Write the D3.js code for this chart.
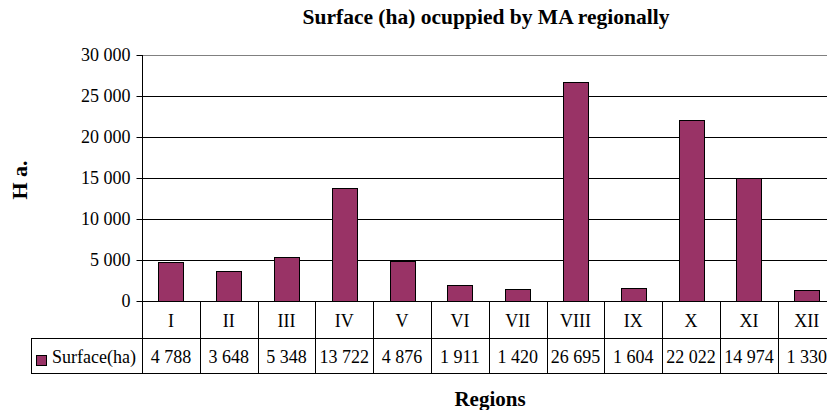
<!DOCTYPE html>
<html>
<head>
<meta charset="utf-8">
<script src="https://cdn.jsdelivr.net/npm/d3@7"></script>
<style>
	body { margin: 0; background: #fff; }
	svg { display: block; font-family: 'Liberation Serif', 'Times New Roman', serif; }
</style>
</head>
<body>
<svg id="chart" width="827" height="410"></svg>
<script>
//Chart data
const regions = ['I', 'II', 'III', 'IV', 'V', 'VI', 'VII', 'VIII', 'IX', 'X', 'XI', 'XII']
const surface = [4788, 3648, 5348, 13722, 4876, 1911, 1420, 26695, 1604, 22022, 14974, 1330]
const yTicks = [0, 5000, 10000, 15000, 20000, 25000, 30000]
const seriesName = 'Surface(ha)'
const title = 'Surface (ha) ocuppied by MA regionally'
const yTitle = 'H a.'
const xTitle = 'Regions'

const svg = d3.select('#chart')
const fmt = d3.formatLocale({ decimal: ',', thousands: '\u00a0', grouping: [3], currency: ['', ''] }).format(',d')

//Plot frame
const plotLeft = 142
const plotTop = 55
const plotBottom = 301
const colWidth = 57.8
const plotRight = plotLeft + colWidth * regions.length
const row1 = 338
const row2 = 373
const legendLeft = 31
const fontSize = 18

const x = d3.scaleBand().domain(regions).range([plotLeft, plotRight]).padding(0)
const y = d3.scaleLinear().domain([0, 30000]).range([plotBottom, plotTop])

//Gridlines
svg.append('g')
	.selectAll('line')
	.data(yTicks.slice(1))
	.enter()
	.append('line')
	.attr('x1', plotLeft)
	.attr('x2', plotRight)
	.attr('y1', d => Math.round(y(d)) + 0.5)
	.attr('y2', d => Math.round(y(d)) + 0.5)
	.attr('stroke', d => (d == 30000 ? '#808080' : '#000'))

//Y axis
const yAxis = svg.append('g')
	.attr('transform', 'translate(' + (plotLeft + 0.5) + ',0)')
	.call(d3.axisLeft(y).tickValues(yTicks).tickFormat(fmt).tickSize(6).tickPadding(6))

yAxis.select('.domain').remove()
yAxis.selectAll('line').attr('stroke', '#000')
yAxis.selectAll('.tick').attr('transform', d => 'translate(0,' + (Math.round(y(d)) + 0.5) + ')')
yAxis.selectAll('text')
	.attr('fill', '#000')
	.style('font-size', fontSize + 'px')
	.style('font-family', 'Liberation Serif, serif')

//Bars
const barWidth = x.bandwidth() * 0.43
svg.append('g')
	.selectAll('rect')
	.data(surface)
	.enter()
	.append('rect')
	.attr('x', (d, i) => Math.round(x(regions[i]) + (x.bandwidth() - barWidth) / 2) + 0.5)
	.attr('y', d => Math.round(y(d)) + 0.5)
	.attr('width', Math.round(barWidth))
	.attr('height', d => Math.round(y(0)) - Math.round(y(d)))
	.attr('fill', '#993366')
	.attr('stroke', '#000')

//Data table lines
const grid = svg.append('g').attr('stroke', '#000').attr('fill', 'none')

grid.append('line')
	.attr('x1', plotLeft + 0.5).attr('x2', plotLeft + 0.5)
	.attr('y1', plotTop).attr('y2', row2)

grid.append('line')
	.attr('x1', plotLeft).attr('x2', plotRight)
	.attr('y1', plotBottom + 0.5).attr('y2', plotBottom + 0.5)

grid.append('line')
	.attr('x1', legendLeft).attr('x2', plotRight)
	.attr('y1', row1 + 0.5).attr('y2', row1 + 0.5)

grid.append('line')
	.attr('x1', legendLeft).attr('x2', plotRight)
	.attr('y1', row2 + 0.5).attr('y2', row2 + 0.5)

grid.append('line')
	.attr('x1', legendLeft + 0.5).attr('x2', legendLeft + 0.5)
	.attr('y1', row1).attr('y2', row2 + 1)

grid.selectAll(null)
	.data(regions.slice(1))
	.enter()
	.append('line')
	.attr('x1', d => Math.round(x(d)) + 0.5)
	.attr('x2', d => Math.round(x(d)) + 0.5)
	.attr('y1', plotBottom)
	.attr('y2', row2)

//Category row
svg.append('g')
	.selectAll('text')
	.data(regions)
	.enter()
	.append('text')
	.attr('x', d => x(d) + x.bandwidth() / 2)
	.attr('y', (plotBottom + row1) / 2 + 1)
	.attr('text-anchor', 'middle')
	.attr('dominant-baseline', 'central')
	.style('font-size', fontSize + 'px')
	.text(d => d)

//Value row
svg.append('g')
	.selectAll('text')
	.data(surface)
	.enter()
	.append('text')
	.attr('x', (d, i) => x(regions[i]) + x.bandwidth() / 2)
	.attr('y', (row1 + row2) / 2 + 1)
	.attr('text-anchor', 'middle')
	.attr('dominant-baseline', 'central')
	.style('font-size', fontSize + 'px')
	.text(d => fmt(d))

//Legend key in the table
svg.append('rect')
	.attr('x', 36.5)
	.attr('y', 355.5)
	.attr('width', 10)
	.attr('height', 10)
	.attr('fill', '#993366')
	.attr('stroke', '#000')

svg.append('text')
	.attr('x', 52)
	.attr('y', (row1 + row2) / 2 + 1)
	.attr('dominant-baseline', 'central')
	.style('font-size', fontSize + 'px')
	.text(seriesName)

//Titles
svg.append('text')
	.attr('x', 486)
	.attr('y', 24)
	.attr('text-anchor', 'middle')
	.style('font-size', '21.5px')
	.style('font-weight', 'bold')
	.text(title)

svg.append('text')
	.attr('transform', 'translate(27,180) rotate(-90)')
	.attr('text-anchor', 'middle')
	.style('font-size', '22px')
	.style('font-weight', 'bold')
	.text(yTitle)

svg.append('text')
	.attr('x', 490)
	.attr('y', 406)
	.attr('text-anchor', 'middle')
	.style('font-size', '21px')
	.style('font-weight', 'bold')
	.text(xTitle)
</script>
</body>
</html>
